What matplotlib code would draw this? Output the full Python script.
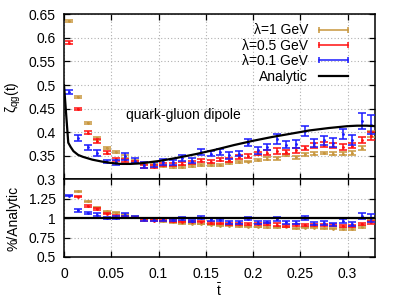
import matplotlib
matplotlib.use("Agg")
import matplotlib.pyplot as plt
import numpy as np
from matplotlib.lines import Line2D
from matplotlib.ticker import FormatStrFormatter

# data
t = [0.005, 0.015, 0.025, 0.035, 0.045, 0.055, 0.065, 0.075, 0.085, 0.095,
     0.105, 0.115, 0.125, 0.135, 0.145, 0.155, 0.165, 0.175, 0.185, 0.195,
     0.205, 0.215, 0.225, 0.235, 0.245, 0.255, 0.265, 0.275, 0.285, 0.295,
     0.305, 0.315, 0.325]

lam1 = [0.635, 0.475, 0.420, 0.387, 0.367, 0.358, 0.348, 0.339, 0.335, 0.331,
        0.328, 0.326, 0.326, 0.328, 0.330, 0.330, 0.331, 0.334, 0.337, 0.338,
        0.341, 0.344, 0.345, 0.351, 0.347, 0.353, 0.355, 0.356, 0.355, 0.355,
        0.356, 0.367, 0.397]
lam1_err = [0.002, 0.002, 0.002, 0.003, 0.002, 0.002, 0.003, 0.002, 0.002, 0.002,
            0.002, 0.002, 0.002, 0.002, 0.002, 0.002, 0.002, 0.002, 0.003, 0.002,
            0.002, 0.003, 0.003, 0.002, 0.003, 0.003, 0.003, 0.003, 0.003, 0.003,
            0.004, 0.005, 0.006]

lam05 = [0.590, 0.450, 0.399, 0.381, 0.357, 0.343, 0.341, 0.337, 0.327, 0.327,
         0.331, 0.332, 0.333, 0.336, 0.340, 0.338, 0.342, 0.342, 0.348, 0.350,
         0.355, 0.357, 0.360, 0.358, 0.362, 0.367, 0.372, 0.374, 0.372, 0.369,
         0.372, 0.384, 0.392]
lam05_err = [0.003, 0.002, 0.003, 0.004, 0.003, 0.003, 0.003, 0.003, 0.003, 0.003,
             0.003, 0.003, 0.003, 0.003, 0.003, 0.003, 0.003, 0.004, 0.004, 0.004,
             0.004, 0.005, 0.006, 0.005, 0.005, 0.005, 0.005, 0.005, 0.005, 0.006,
             0.006, 0.007, 0.008]

lam01 = [0.486, 0.388, 0.368, 0.356, 0.338, 0.336, 0.349, 0.340, 0.331, 0.332,
         0.337, 0.336, 0.346, 0.340, 0.358, 0.355, 0.358, 0.351, 0.355, 0.378,
         0.362, 0.369, 0.386, 0.374, 0.375, 0.403, 0.377, 0.383, 0.378, 0.397,
         0.384, 0.424, 0.416]
lam01_err = [0.004, 0.007, 0.006, 0.007, 0.004, 0.006, 0.007, 0.005, 0.006, 0.005,
             0.007, 0.006, 0.006, 0.006, 0.007, 0.006, 0.006, 0.007, 0.006, 0.008,
             0.007, 0.007, 0.010, 0.008, 0.008, 0.010, 0.009, 0.009, 0.009, 0.011,
             0.011, 0.016, 0.020]

an_t = [0.0, 0.0045, 0.007, 0.01, 0.015, 0.02, 0.03, 0.04, 0.05, 0.06, 0.07,
        0.08, 0.1, 0.12, 0.14, 0.16, 0.18, 0.2, 0.22, 0.24, 0.26, 0.28, 0.3,
        0.31, 0.32, 0.33]
an_v = [0.500, 0.378, 0.369, 0.360, 0.352, 0.348, 0.342, 0.338, 0.335, 0.333,
        0.333, 0.334, 0.339, 0.346, 0.354, 0.363, 0.373, 0.382, 0.390, 0.397,
        0.404, 0.409, 0.413, 0.414, 0.414, 0.413]

series = [
    ("λ=1 GeV", lam1, lam1_err, "#c8963c"),
    ("λ=0.5 GeV", lam05, lam05_err, "#ff1010"),
    ("λ=0.1 GeV", lam01, lam01_err, "#1a1aff"),
]

plt.rcParams.update({
    "font.family": ["Liberation Sans", "DejaVu Sans"],
    "font.size": 10,
    "mathtext.fontset": "custom",
    "mathtext.rm": "Liberation Sans",
    "mathtext.it": "Liberation Sans",
})

fig = plt.figure(figsize=(3.99, 2.99), dpi=100)
ax1 = fig.add_axes([0.1604, 0.3997, 0.7794, 0.5525])
ax2 = fig.add_axes([0.1604, 0.1405, 0.7794, 0.2592])

an_at_t = np.interp(t, an_t, an_v)
handles = []
for i, (label, vals, errs, col) in enumerate(series):
    vals = np.array(vals)
    errs = np.array(errs)
    kw = dict(fmt=".", color=col, ms=2, elinewidth=1.1, capsize=2.6,
              capthick=1.1, zorder=3 + i)
    ax1.errorbar(t, vals, yerr=errs, **kw)
    ax2.errorbar(t, vals / an_at_t, yerr=errs / an_at_t, **kw)
    handles.append(Line2D([], [], color=col, lw=1.1, marker="|", ms=5,
                          mew=1.1, label=label))

ax1.plot(an_t, an_v, color="black", lw=1.6, zorder=10)
handles.append(Line2D([], [], color="black", lw=1.6, label="Analytic"))
ax2.axhline(1.0, color="black", lw=1.6, zorder=10)

ax1.text(0.126, 0.436, "quark-gluon dipole", ha="center", va="center")

leg = ax1.legend(handles=handles, loc="upper right",
                 bbox_to_anchor=(0.928, 0.945), frameon=False,
                 markerfirst=False, numpoints=2, borderpad=0,
                 borderaxespad=0, handlelength=2.7, handletextpad=0.5,
                 labelspacing=0.1)

xticks = [0, 0.05, 0.1, 0.15, 0.2, 0.25, 0.3]
for ax in (ax1, ax2):
    ax.set_xlim(0, 0.329)
    ax.set_xticks(xticks)
    ax.grid(True, color="#b0b0b0", ls=(0, (1, 2)), lw=0.8)
    ax.set_axisbelow(True)
    ax.tick_params(direction="in", length=4.3, width=0.9, top=True,
                   right=True, pad=6)
    ax.yaxis.set_major_formatter(FormatStrFormatter("%g"))
    for sp in ax.spines.values():
        sp.set_linewidth(1.1)

ax1.set_ylim(0.3, 0.65)
ax1.set_yticks(np.arange(0.30, 0.651, 0.05))
ax1.tick_params(labelbottom=False)

ax2.set_ylim(0.5, 1.5)
ax2.set_yticks([0.5, 0.75, 1.0, 1.25])
ax2.xaxis.set_major_formatter(FormatStrFormatter("%g"))
ax2.tick_params(axis="x", pad=7)

ax1.set_ylabel(r"$\mathrm{\zeta_{qg}(t)}$")
ax1.yaxis.set_label_coords(-0.132, 0.5)
ax2.set_ylabel("%/Analytic")
ax2.yaxis.set_label_coords(-0.14, 0.5)
ax2.set_xlabel(r"$\bar{\mathrm{t}}$", labelpad=1)

fig.savefig("out.png", dpi=100)
